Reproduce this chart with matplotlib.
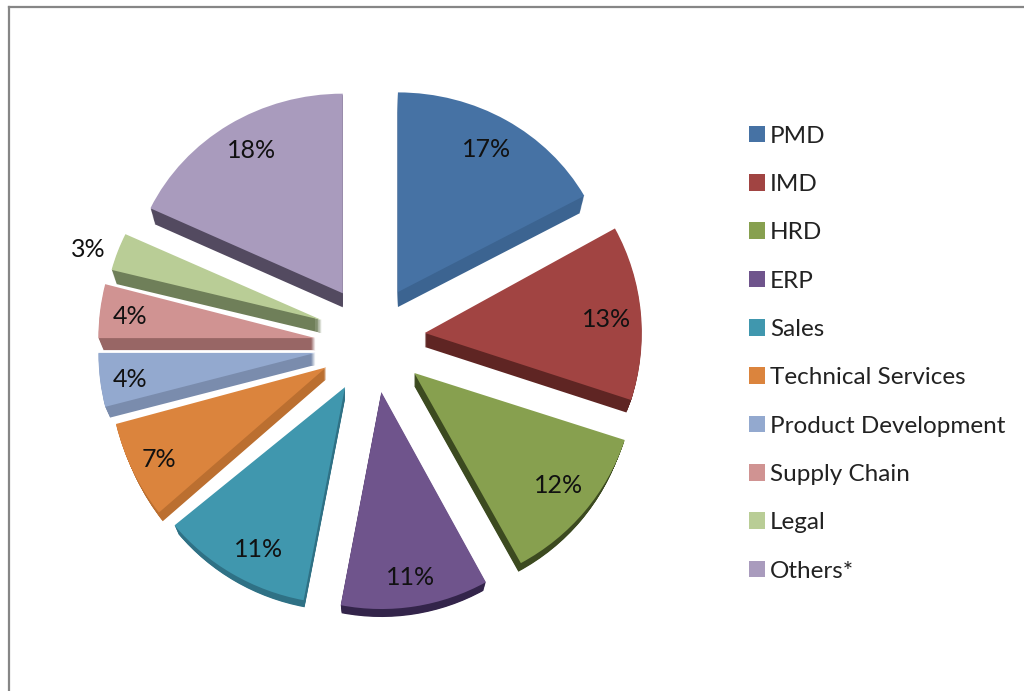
import matplotlib
matplotlib.use('Agg')
import matplotlib.pyplot as plt
from matplotlib.patches import Wedge
from matplotlib.transforms import Affine2D

#-------------------------------
# chart data

labels = ['PMD', 'IMD', 'HRD', 'ERP', 'Sales', 'Technical Services',
          'Product Development', 'Supply Chain', 'Legal', 'Others*']
shares = [17, 13, 12, 11, 11, 7, 4, 4, 3, 18]

top_colors = ['#4672a4', '#a14442', '#87a04f', '#6f548c', '#4097ae',
              '#db843d', '#93a9cf', '#d09392', '#b9cd96', '#a99bbd']
side_colors = ['#3c6491', '#5f2523', '#3c4a20', '#33244a', '#2f7185',
               '#bb6f30', '#7a8cad', '#986665', '#6f7f59', '#534a60']

#-------------------------------
# fake 3d: per slice nudge in pixels, stretch and wall height

nudge_x = [3, 7, 7, 3, -2, -3, -9, -9, -5, -3]
nudge_y = [7.5, 2.6, -3, -5.6, -6.6, -6, -7, -4, 4, 7]
stretch_x = [0.98, 1, 1.02, 1, 1.02, 1, 1, 1, 1, 0.98]
stretch_y = [0.92, 1, 1, 1, 1, 1.05, 1, 1, 0.93, 0.92]
wall = [15, 14, 13, 13, 12, 12, 12, 12, 13, 14]
wall_shrink = 5

# label fine tuning in pixels, y positive is up
label_dx = [-3, -2, -1, 0, 9, -3, -2, -2, -3, 6]
label_dy = [-4, -4, 5, -3, -4, -4, -3, -2, -7, 0]

#-------------------------------
# axes are laid out so one data unit is one pixel

fig = plt.figure(figsize=(10.24, 6.91), dpi=100, facecolor='white')
ax = fig.add_axes([8.5 / 1024, 0, 1, 684.5 / 691])

# explode is in data units here, so 47 means 47 pixels
wedges, texts, pcts = ax.pie(
    shares, explode=[47] * len(shares), startangle=90, counterclock=False,
    colors=top_colors, center=(371, 351), radius=217, autopct='%1.0f%%',
    pctdistance=0.85, wedgeprops={'linewidth': 0, 'zorder': 3},
    textprops={'family': 'Lato', 'fontsize': 18, 'color': '#111111', 'zorder': 5})

# the 3% label sits outside its slice
lx, ly = pcts[8].get_position()
cx, cy = wedges[8].center
pcts[8].set_position((cx + (lx - cx) * 1.33, cy + (ly - cy) * 1.33))

for i, w in enumerate(wedges):
    cx, cy = w.center
    warp = (Affine2D().translate(-cx, -cy).scale(stretch_x[i], stretch_y[i])
            .translate(cx + nudge_x[i], cy + nudge_y[i]))
    w.set_transform(warp + ax.transData)
    lx, ly = pcts[i].get_position()
    pcts[i].set_position((lx + label_dx[i], ly + label_dy[i]))
    pcts[i].set_transform(warp + ax.transData)
    # side wall: the top face repeated downward, shrinking a little, in a darker colour
    for step in range(1, wall[i] + 1):
        r = w.r - wall_shrink * step / wall[i]
        layer = Wedge((cx, cy), r, w.theta1, w.theta2, color=side_colors[i], lw=0, zorder=2)
        layer.set_transform(warp + Affine2D().translate(0, -step) + ax.transData)
        ax.add_patch(layer)

ax.legend(wedges, labels, loc='upper left', bbox_to_anchor=(0.7015, 0.858), frameon=False,
          prop={'family': 'Lato', 'size': 17.5}, labelcolor='#222222', labelspacing=1.125,
          handlelength=0.68, handleheight=0.68, handletextpad=0.19)

ax.set_xlim(8.5, 1032.5)
ax.set_ylim(0, 684.5)
ax.set_frame_on(True)
ax.set_xticks([])
ax.set_yticks([])
for side in ['right', 'bottom']:
    ax.spines[side].set_visible(False)
for side in ['top', 'left']:
    ax.spines[side].set_color('#868686')
    ax.spines[side].set_linewidth(1.6)

fig.savefig('out.png', dpi=100)
